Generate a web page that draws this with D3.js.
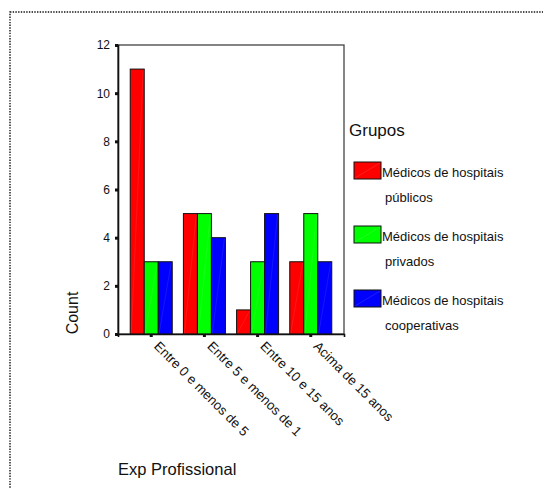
<!DOCTYPE html>
<html lang="pt">
<head>
    <meta charset="UTF-8">
    <title>Exp Profissional por Grupos</title>
    <script src="https://cdn.jsdelivr.net/npm/d3@7"></script>
    <style>
        body { margin: 0; background: #fff; }
        svg text { font-family: "Liberation Sans", Arial, sans-serif; fill: #111; }
    </style>
</head>
<body>
    <svg id="chart" width="543" height="489"></svg>

    <script>
        // dados
        var categorias = ["Entre 0 e menos de 5", "Entre 5 e menos de 1", "Entre 10 e 15 anos", "Acima de 15 anos"];
        var grupos = ["Médicos de hospitais públicos", "Médicos de hospitais privados", "Médicos de hospitais cooperativas"];
        var legendaLinhas = [["Médicos de hospitais", "públicos"], ["Médicos de hospitais", "privados"], ["Médicos de hospitais", "cooperativas"]];
        var publicos = [11, 5, 1, 3];
        var privados = [3, 5, 3, 5];
        var cooperativas = [3, 4, 5, 3];
        var yTicks = [0, 2, 4, 6, 8, 10, 12];
        var cores = ["#ff0000", "#00ff00", "#0000ff"];

        var series = [publicos, privados, cooperativas];
        var svg = d3.select("#chart");

        // moldura pontilhada
        svg.append("rect")
            .attr("x", 10).attr("y", 12)
            .attr("width", 560).attr("height", 500)
            .attr("fill", "none")
            .attr("stroke", "#111")
            .attr("stroke-width", 1.4)
            .attr("stroke-dasharray", "1.4,1.3");

        var plotL = 118, plotR = 344, plotT = 45, plotB = 334;

        var x0 = d3.scaleBand().domain(categorias).range([plotL, plotR])
            .paddingInner(0.21).paddingOuter(0.23);
        var x1 = d3.scaleBand().domain(d3.range(grupos.length)).range([0, x0.bandwidth()]);
        var y = d3.scaleLinear().domain([0, 12]).range([plotB, plotT]);

        // caixa do grafico
        svg.append("rect")
            .attr("x", plotL).attr("y", plotT)
            .attr("width", plotR - plotL).attr("height", plotB - plotT)
            .attr("fill", "none").attr("stroke", "#444").attr("stroke-width", 1.3);

        // barras
        var g = svg.append("g");
        categorias.forEach(function(cat, i) {
            series.forEach(function(s, j) {
                var bx = x0(cat) + x1(j), bw = x1.bandwidth(), by = y(s[i]);
                g.append("rect")
                    .attr("x", bx).attr("y", by)
                    .attr("width", bw).attr("height", plotB - by)
                    .attr("fill", cores[j])
                    .attr("stroke", "#111").attr("stroke-width", 1);
                g.append("line")
                    .attr("x1", bx + 1).attr("y1", plotB - 1)
                    .attr("x2", bx + bw - 1).attr("y2", by + 1)
                    .attr("stroke", "#fff").attr("stroke-opacity", 0.15)
                    .attr("stroke-width", 0.6);
            });
        });

        // eixo y
        var yAxis = d3.axisLeft(y).tickValues(yTicks).tickSize(3).tickPadding(5);
        var ya = svg.append("g").attr("transform", "translate(" + plotL + ",0)").call(yAxis);
        ya.select(".domain").attr("stroke", "#111").attr("stroke-width", 1.6);
        ya.selectAll(".tick line").attr("stroke", "#111").attr("stroke-width", 3);
        ya.selectAll(".tick text").style("font-size", "12px")
            .style("font-family", "'Liberation Sans', Arial, sans-serif").attr("fill", "#111");

        // eixo x
        var xAxis = d3.axisBottom(x0).tickSize(3).tickPadding(0);
        var xa = svg.append("g").attr("transform", "translate(0," + plotB + ")").call(xAxis);
        xa.select(".domain").attr("stroke", "#111").attr("stroke-width", 1.6);
        xa.selectAll(".tick line").attr("stroke", "#111").attr("stroke-width", 3);
        xa.selectAll(".tick text")
            .style("font-size", "13.3px")
            .style("font-family", "'Liberation Sans', Arial, sans-serif")
            .attr("fill", "#111")
            .attr("text-anchor", "start")
            .attr("dy", 0)
            .attr("y", 0)
            .attr("transform", "translate(2,13) rotate(45)");

        // titulos dos eixos
        svg.append("text")
            .attr("transform", "translate(78,313) rotate(-90)")
            .attr("text-anchor", "middle")
            .style("font-size", "16px")
            .text("Count");

        svg.append("text")
            .attr("x", 118).attr("y", 475)
            .style("font-size", "16.5px")
            .text("Exp Profissional");

        // legenda
        svg.append("text")
            .attr("x", 349).attr("y", 136)
            .style("font-size", "17px")
            .text("Grupos");

        var leg = svg.append("g");
        grupos.forEach(function(nome, j) {
            var ly = 162 + j * 64;
            leg.append("rect")
                .attr("x", 354).attr("y", ly)
                .attr("width", 27).attr("height", 17)
                .attr("fill", cores[j])
                .attr("stroke", "#111").attr("stroke-width", 1);
            leg.append("line")
                .attr("x1", 355).attr("y1", ly + 16)
                .attr("x2", 380).attr("y2", ly + 1)
                .attr("stroke", "#fff").attr("stroke-opacity", 0.2)
                .attr("stroke-width", 0.6);
            leg.append("text")
                .attr("x", 382).attr("y", ly + 14.5)
                .style("font-size", "13px")
                .text(legendaLinhas[j][0]);
            leg.append("text")
                .attr("x", 385).attr("y", ly + 40)
                .style("font-size", "13px")
                .text(legendaLinhas[j][1]);
        });
    </script>
</body>
</html>
